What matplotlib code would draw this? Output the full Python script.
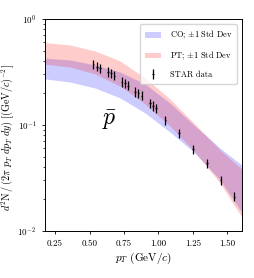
import numpy as np
import matplotlib
matplotlib.use("Agg")
import matplotlib.pyplot as plt
from matplotlib.container import ErrorbarContainer
from matplotlib.legend_handler import HandlerErrorbar

plt.rcParams['font.family'] = 'serif'
plt.rcParams['font.serif'] = ['cmr10']
plt.rcParams['mathtext.fontset'] = 'cm'
plt.rcParams['axes.formatter.use_mathtext'] = True
plt.rcParams['axes.unicode_minus'] = False

# model bands
band_pt = [0.178, 0.359, 0.540, 0.721, 0.902, 1.083, 1.264, 1.446, 1.612]
pt_upper = [0.598, 0.568, 0.499, 0.402, 0.278, 0.176, 0.102, 0.0581, 0.0376]
pt_lower = [0.374, 0.352, 0.303, 0.233, 0.158, 0.0979, 0.0556, 0.0284, 0.0130]
co_upper = [0.426, 0.410, 0.368, 0.316, 0.244, 0.161, 0.098, 0.0607, 0.0410]
co_lower = [0.272, 0.254, 0.223, 0.180, 0.130, 0.0859, 0.0544, 0.0303, 0.0145]

# STAR anti-proton data
star_pt = [0.528, 0.552, 0.576, 0.636, 0.656, 0.680, 0.733, 0.757, 0.777,
           0.830, 0.855, 0.878, 0.938, 0.958, 0.980,
           1.05, 1.15, 1.25, 1.35, 1.45, 1.55]
star_y = [0.374, 0.355, 0.343, 0.318, 0.307, 0.292, 0.256, 0.247, 0.235,
          0.206, 0.199, 0.189, 0.160, 0.152, 0.144,
          0.111, 0.0835, 0.059, 0.0435, 0.0303, 0.0211]
star_err = [0.1 * v for v in star_y]

fig = plt.figure(figsize=(2.54, 2.78), dpi=100)
ax = fig.add_axes([0.177, 0.169, 0.776, 0.763])

ax.fill_between(band_pt, co_lower, co_upper, color='blue', alpha=0.2, lw=0,
                label=r'CO; $\pm 1$ Std Dev')
ax.fill_between(band_pt, pt_lower, pt_upper, color='red', alpha=0.2, lw=0,
                label=r'PT; $\pm 1$ Std Dev')
ax.errorbar(star_pt, star_y, yerr=star_err, xerr=0.006, fmt='none',
            ecolor='black', elinewidth=0.9, label='STAR data')

ax.text(0.645, 0.11, r'$\bar{p}$', fontsize=17, ha='center', va='center')

ax.set_yscale('log')
ax.set_xlim(0.177, 1.606)
ax.set_ylim(0.01, 1)
ax.set_xticks([0.25, 0.50, 0.75, 1.00, 1.25, 1.50])
ax.set_xticklabels(['0.25', '0.50', '0.75', '1.00', '1.25', '1.50'])
ax.tick_params(labelsize=6.5, width=0.6, length=2.5)
ax.tick_params(which='minor', width=0.5, length=1.5)
for s in ax.spines.values():
    s.set_linewidth(0.7)

ax.set_xlabel(r'$p_T$ (GeV/$c$)', fontsize=8, labelpad=2)
ax.set_ylabel(r'$d^2\mathrm{N}\,/\,(2\pi\ p_T\ dp_T\ dy)\ \left[(\mathrm{GeV}/c)^{-2}\right]$',
              fontsize=7.3)
ax.yaxis.set_label_coords(-0.145, 0.44)
ax.legend(loc='upper right', fontsize=6, handlelength=2.0, handletextpad=1.0,
          borderpad=0.6, labelspacing=1.0, borderaxespad=0.6,
          handler_map={ErrorbarContainer: HandlerErrorbar(xerr_size=0.12, yerr_size=0.6)})

fig.savefig('out.png', dpi=100)
